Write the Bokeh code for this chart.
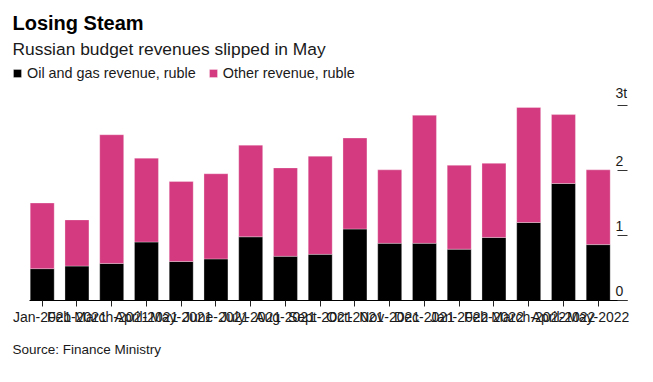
from bokeh.plotting import figure
from bokeh.models import (ColumnDataSource, FixedTicker, Range1d, Title, Legend, LegendItem)
from bokeh.core.properties import value
from bokeh.embed import file_html
from bokeh.resources import INLINE

months = ["Jan-2021", "Feb-2021", "March-2021", "April-2021", "May-2021", "June-2021",
          "July-2021", "Aug-2021", "Sept-2021", "Oct-2021", "Nov-2021", "Dec-2021",
          "Jan-2022", "Feb-2022", "March-2022", "April-2022", "May-2022"]
oil_gas = [0.49, 0.53, 0.57, 0.90, 0.60, 0.64, 0.98, 0.68, 0.71, 1.10, 0.88, 0.88,
           0.79, 0.97, 1.20, 1.80, 0.86]
other = [1.01, 0.71, 1.98, 1.29, 1.23, 1.31, 1.41, 1.36, 1.51, 1.40, 1.13, 1.97,
         1.29, 1.14, 1.77, 1.06, 1.15]
y_ticks = [0, 1, 2, 3]
y_tick_labels = ["0", "1", "2", "3t"]

FONT = "Liberation Sans"
PINK = "#d33a7f"
TEXT = "#1a1a1a"

xs = list(range(len(months)))
src = ColumnDataSource(dict(x=xs, oil=oil_gas, other=other))

x_start, x_end = -0.855, 16.843
p = figure(width=650, height=380, output_backend="svg", toolbar_location=None,
           title=None, x_range=Range1d(x_start, x_end), y_range=Range1d(0, 3.677),
           y_axis_location="right",
           min_border_left=12, min_border_right=23, min_border_top=61, min_border_bottom=80)

rs = p.vbar_stack(["oil", "other"], x="x", width=0.69, source=src,
                  fill_color=["#000000", PINK], line_color="white", line_width=0.5,
                  line_alpha=0.6)

p.grid.visible = False
p.outline_line_color = None
p.background_fill_color = "white"
p.border_fill_color = "white"

xa = p.xaxis[0]
xa.ticker = FixedTicker(ticks=xs)
xa.major_label_overrides = {i: m for i, m in enumerate(months)}
xa.bounds = (-0.365, x_end)
xa.axis_line_color = "#000000"
xa.major_tick_line_color = "#222222"
xa.major_tick_out = 6
xa.major_tick_in = 0
xa.minor_tick_line_color = None
xa.major_label_standoff = 2
xa.major_label_text_font = FONT
xa.major_label_text_font_size = "14px"
xa.major_label_text_color = TEXT

ya = p.yaxis[0]
ya.ticker = FixedTicker(ticks=y_ticks)
ya.major_label_overrides = {t: "" for t in y_ticks}
ya.axis_line_color = None
ya.major_tick_in = 10
ya.major_tick_out = 0
ya.major_tick_line_color = "#333333"
ya.minor_tick_line_color = None
ya.major_label_standoff = 0

ysrc = ColumnDataSource(dict(y=y_ticks, t=y_tick_labels))
p.text(x=x_end, y="y", text="t", source=ysrc, x_offset=-12, y_offset=-5,
       text_align="left", text_baseline="bottom", text_font=value(FONT),
       text_font_size="14px", text_color=TEXT)

legend = Legend(items=[LegendItem(label="Oil and gas revenue, ruble", renderers=[rs[0]]),
                       LegendItem(label="Other revenue, ruble", renderers=[rs[1]])],
                orientation="horizontal", location=(0, 219), margin=0, padding=2,
                spacing=12, label_standoff=5, glyph_width=10, glyph_height=10,
                label_text_font=FONT, label_text_font_size="14.4px", label_text_color=TEXT,
                border_line_color=None, background_fill_alpha=0)
p.add_layout(legend)

p.add_layout(Title(text="Russian budget revenues slipped in May", align="left",
                   text_font=FONT, text_font_size="17.4px", text_font_style="normal",
                   text_color=TEXT, standoff=6), "above")
p.add_layout(Title(text="Losing Steam", align="left", text_font=FONT,
                   text_font_size="20px", text_font_style="bold",
                   text_color="#000000", standoff=0), "above")

p.add_layout(Title(text="Source: Finance Ministry", align="left", text_font=FONT,
                   text_font_size="13.5px", text_font_style="normal",
                   text_color=TEXT, standoff=25), "below")

open("out.html", "w").write(file_html(p, INLINE))
